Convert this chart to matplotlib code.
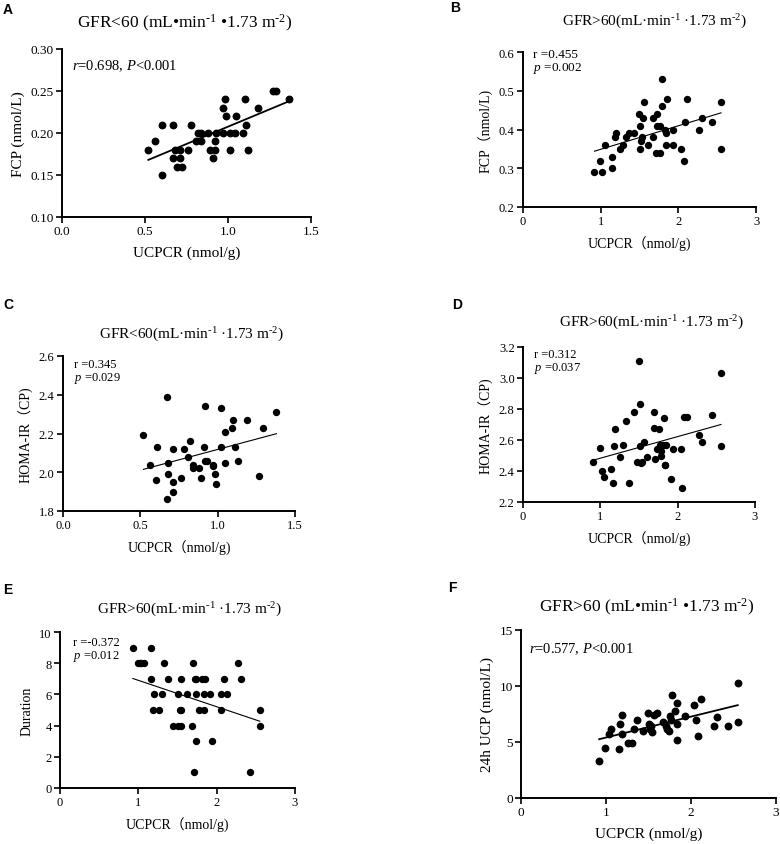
import matplotlib
matplotlib.use('Agg')
import matplotlib.pyplot as plt

plt.rcParams['font.family'] = ['Liberation Serif', 'Noto Sans CJK SC']
plt.rcParams['mathtext.fontset'] = 'custom'
plt.rcParams['mathtext.rm'] = 'Liberation Serif'
plt.rcParams['mathtext.it'] = 'Liberation Serif:italic'

W, H = 780, 845

# ---- data ----
a_x = [0.52, 0.56, 0.60, 0.60, 0.67, 0.67, 0.68, 0.69, 0.71, 0.71, 0.72, 0.76, 0.78,
       0.81, 0.82, 0.84, 0.84, 0.88, 0.89, 0.91, 0.92, 0.92, 0.93, 0.97, 0.98, 0.99,
       0.97, 1.01, 1.01, 1.04, 1.05, 1.09, 1.10, 1.11, 1.12, 1.18, 1.27, 1.29, 1.37]
a_y = [0.18, 0.19, 0.21, 0.15, 0.21, 0.17, 0.18, 0.16, 0.17, 0.18, 0.16, 0.18, 0.21,
       0.19, 0.20, 0.19, 0.20, 0.20, 0.18, 0.17, 0.18, 0.19, 0.20, 0.23, 0.24, 0.22,
       0.20, 0.18, 0.20, 0.20, 0.22, 0.20, 0.24, 0.21, 0.18, 0.23, 0.25, 0.25, 0.24]
a_fit_x = [0.52, 1.37]
a_fit_y = [0.168, 0.238]

b_x = [0.91, 0.99, 1.02, 1.06, 1.15, 1.15, 1.19, 1.20, 1.25, 1.29, 1.33, 1.37, 1.43,
       1.49, 1.50, 1.50, 1.52, 1.53, 1.54, 1.56, 1.61, 1.68, 1.68, 1.71, 1.73, 1.73,
       1.76, 1.77, 1.79, 1.79, 1.83, 1.84, 1.84, 1.85, 1.93, 1.93, 2.04, 2.07, 2.09,
       2.11, 2.27, 2.31, 2.43, 2.55, 2.55]
b_y = [0.29, 0.32, 0.29, 0.36, 0.33, 0.30, 0.38, 0.39, 0.35, 0.36, 0.38, 0.39, 0.39,
       0.44, 0.41, 0.35, 0.37, 0.38, 0.43, 0.47, 0.36, 0.38, 0.43, 0.34, 0.44, 0.41,
       0.41, 0.34, 0.46, 0.53, 0.40, 0.39, 0.36, 0.48, 0.40, 0.36, 0.35, 0.32, 0.42,
       0.48, 0.40, 0.43, 0.42, 0.47, 0.35]
b_fit_x = [0.92, 2.55]
b_fit_y = [0.344, 0.443]

c_x = [0.52, 0.56, 0.60, 0.61, 0.67, 0.67, 0.68, 0.68, 0.71, 0.71, 0.71, 0.76, 0.78,
       0.81, 0.82, 0.84, 0.84, 0.88, 0.89, 0.91, 0.92, 0.92, 0.93, 0.97, 0.97, 0.98,
       0.99, 1.02, 1.02, 1.05, 1.05, 1.09, 1.10, 1.11, 1.13, 1.19, 1.27, 1.29, 1.38]
c_y = [2.19, 2.04, 1.96, 2.13, 2.39, 1.86, 1.99, 2.05, 2.12, 1.95, 1.90, 1.97, 2.12,
       2.08, 2.16, 2.04, 2.02, 2.02, 1.97, 2.13, 2.34, 2.06, 2.06, 2.04, 2.03, 1.99,
       1.94, 2.33, 2.13, 2.05, 2.21, 2.23, 2.27, 2.13, 2.06, 2.27, 1.98, 2.23, 2.31]
c_fit_x = [0.52, 1.38]
c_fit_y = [2.015, 2.199]

d_x = [0.91, 0.99, 1.02, 1.05, 1.14, 1.16, 1.18, 1.19, 1.26, 1.29, 1.33, 1.37, 1.43,
       1.48, 1.51, 1.50, 1.51, 1.52, 1.54, 1.57, 1.60, 1.70, 1.70, 1.71, 1.73, 1.76,
       1.77, 1.78, 1.79, 1.81, 1.82, 1.83, 1.84, 1.85, 1.92, 1.94, 2.04, 2.06, 2.08,
       2.12, 2.28, 2.32, 2.44, 2.56, 2.56]
d_y = [2.46, 2.55, 2.40, 2.36, 2.41, 2.32, 2.56, 2.67, 2.49, 2.57, 2.72, 2.32, 2.78,
       2.46, 2.56, 3.11, 2.83, 2.45, 2.46, 2.59, 2.49, 2.78, 2.68, 2.48, 2.54, 2.67,
       2.57, 2.53, 2.50, 2.57, 2.74, 2.44, 2.44, 2.57, 2.35, 2.54, 2.54, 2.29, 2.75,
       2.75, 2.63, 2.59, 2.76, 3.03, 2.56]
d_fit_x = [0.91, 2.56]
d_fit_y = [2.47, 2.70]

e_x = [0.93, 1.16,
       0.99, 1.02, 1.04, 1.07, 1.33, 1.70, 2.27,
       1.16, 1.38, 1.55, 1.72, 1.74, 1.81, 1.85, 2.09, 2.31,
       1.20, 1.30, 1.51, 1.62, 1.74, 1.84, 1.92, 2.06, 2.13,
       1.19, 1.26, 1.53, 1.55, 1.78, 1.84, 2.05, 2.55,
       1.44, 1.50, 1.55, 1.69, 2.55,
       1.74, 1.94,
       1.71, 2.43]
e_y = [9, 9,
       8, 8, 8, 8, 8, 8, 8,
       7, 7, 7, 7, 7, 7, 7, 7, 7,
       6, 6, 6, 6, 6, 6, 6, 6, 6,
       5, 5, 5, 5, 5, 5, 5, 5,
       4, 4, 4, 4, 4,
       3, 3,
       1, 1]
e_fit_x = [0.93, 2.55]
e_fit_y = [7.02, 4.28]

f_x = [0.92, 0.99, 1.03, 1.06, 1.15, 1.16, 1.19, 1.19, 1.26, 1.30, 1.33, 1.37, 1.44,
       1.49, 1.50, 1.52, 1.53, 1.54, 1.56, 1.60, 1.67, 1.70, 1.72, 1.74, 1.75, 1.78,
       1.77, 1.81, 1.83, 1.83, 1.84, 1.93, 2.04, 2.06, 2.08, 2.12, 2.27, 2.31, 2.43,
       2.55, 2.55]
f_y = [3.31, 4.50, 5.69, 6.14, 4.41, 6.65, 7.40, 5.69, 4.95, 4.95, 6.20, 6.95, 5.96,
       7.57, 6.65, 6.20, 6.43, 5.90, 7.40, 7.63, 6.80, 6.43, 6.14, 5.96, 7.34, 9.18,
       6.95, 7.78, 6.65, 5.16, 8.44, 7.28, 8.29, 6.95, 5.54, 8.88, 6.43, 7.19, 6.43,
       10.23, 6.80]
f_fit_x = [0.92, 2.55]
f_fit_y = [5.25, 8.29]

fig = plt.figure(figsize=(W / 100, H / 100), dpi=100)
fig.patch.set_facecolor('white')


def px(x, y):
    return x / W, 1 - y / H


def make_ax(l, t, r, b):
    x0, y1 = px(l, t)
    x1, y0 = px(r, b)
    return fig.add_axes([x0, y0, x1 - x0, y1 - y0])


def style(ax, xlim, ylim, xticks, yticks, xfmt, yfmt, xlabel, ylabel, fs_lab, fs_tick):
    ax.set_xlim(*xlim)
    ax.set_ylim(*ylim)
    ax.set_xticks(xticks)
    ax.set_yticks(yticks)
    ax.set_xticklabels([xfmt.format(v) for v in xticks], fontsize=fs_tick)
    ax.set_yticklabels([yfmt.format(v) for v in yticks], fontsize=fs_tick)
    for s in ['top', 'right']:
        ax.spines[s].set_visible(False)
    for s in ['left', 'bottom']:
        ax.spines[s].set_linewidth(1.4)
    ax.tick_params(direction='out', length=4, width=1.2, pad=2)
    ax.set_xlabel(xlabel, fontsize=fs_lab, labelpad=6)
    ax.set_ylabel(ylabel, fontsize=fs_lab, labelpad=4)
    ax.patch.set_alpha(0)


panels = [
    # letter, box, x, y, fitx, fity, xlim, ylim, xticks, yticks, xfmt, yfmt, xlabel, ylabel, big
    ('A', (62, 50, 311, 218), a_x, a_y, a_fit_x, a_fit_y, (0, 1.5), (0.10, 0.30),
     [0, 0.5, 1.0, 1.5], [0.10, 0.15, 0.20, 0.25, 0.30], '{:.1f}', '{:.2f}',
     'UCPCR (nmol/g)', 'FCP (nmol/L)', True),
    ('B', (523, 53, 756, 208), b_x, b_y, b_fit_x, b_fit_y, (0, 3), (0.2, 0.6),
     [0, 1, 2, 3], [0.2, 0.3, 0.4, 0.5, 0.6], '{:.0f}', '{:.1f}',
     'UCPCR（nmol/g)', 'FCP（nmol/L)', False),
    ('C', (63, 357, 295, 512), c_x, c_y, c_fit_x, c_fit_y, (0, 1.5), (1.8, 2.6),
     [0, 0.5, 1.0, 1.5], [1.8, 2.0, 2.2, 2.4, 2.6], '{:.1f}', '{:.1f}',
     'UCPCR（nmol/g)', 'HOMA-IR（CP)', False),
    ('D', (523, 348, 755, 503), d_x, d_y, d_fit_x, d_fit_y, (0, 3), (2.2, 3.2),
     [0, 1, 2, 3], [2.2, 2.4, 2.6, 2.8, 3.0, 3.2], '{:.0f}', '{:.1f}',
     'UCPCR（nmol/g)', 'HOMA-IR（CP)', False),
    ('E', (60, 633, 295, 789), e_x, e_y, e_fit_x, e_fit_y, (0, 3), (0, 10),
     [0, 1, 2, 3], [0, 2, 4, 6, 8, 10], '{:.0f}', '{:.0f}',
     'UCPCR（nmol/g)', 'Duration', False),
    ('F', (521, 631, 776, 799), f_x, f_y, f_fit_x, f_fit_y, (0, 3), (0, 15),
     [0, 1, 2, 3], [0, 5, 10, 15], '{:.0f}', '{:.0f}',
     'UCPCR (nmol/g)', '24h UCP (nmol/L)', True),
]

for (letter, box, xs, ys, fx, fy, xlim, ylim, xt, yt, xf, yf, xl, yl, big) in panels:
    ax = make_ax(*box)
    ax.scatter(xs, ys, s=32 if big else 28, color='black', zorder=3, linewidths=0)
    ax.plot(fx, fy, color='black', linewidth=1.3 if big else 0.8, zorder=2)
    style(ax, xlim, ylim, xt, yt, xf, yf, xl, yl,
          11 if big else 10, 9.5 if big else 9)

# ---- titles ----
dot_big = 'GFR{} (mL•min$^{{\\text{{-1}}}}$ •1.73 m$^{{\\text{{-2}}}}$)'
dot_small = 'GFR{}(mL·min$^{{\\text{{-1}}}}$ ·1.73 m$^{{\\text{{-2}}}}$)'
titles = [
    (185, 23, dot_big.format('<60'), 12.5),
    (655, 22, dot_small.format('>60'), 11),
    (192, 335, dot_small.format('<60'), 11),
    (652, 323, dot_small.format('>60'), 11),
    (190, 610, dot_small.format('>60'), 11),
    (647, 607, dot_big.format('>60'), 12.5),
]
for x, y, t, fs in titles:
    fig.text(*px(x, y), t, ha='center', va='center', fontsize=fs)

# ---- statistics ----
stats = [
    (72, 66, '$r$=0.698, $P$<0.001', 10.5),
    (533, 62, 'r =0.455\n$p$ =0.002', 9.5),
    (74, 373, 'r =0.345\n$p$ =0.029', 9),
    (534, 363, 'r =0.312\n$p$ =0.037', 9),
    (73, 650, 'r =-0.372\n$p$ =0.012', 9),
    (529, 649, '$r$=0.577, $P$<0.001', 10.5),
]
for x, y, t, fs in stats:
    fig.text(*px(x, y), t, ha='left', va='center', fontsize=fs, linespacing=1.0)

# ---- panel letters ----
letters = [('A', 8, 10), ('B', 455, 8), ('C', 8, 305), ('D', 457, 305),
           ('E', 8, 590), ('F', 452, 588)]
for l, x, y in letters:
    fig.text(*px(x, y), l, ha='center', va='center', fontsize=10,
             fontweight='bold', family='Liberation Sans')

fig.savefig('out.png', dpi=100, facecolor='white')
